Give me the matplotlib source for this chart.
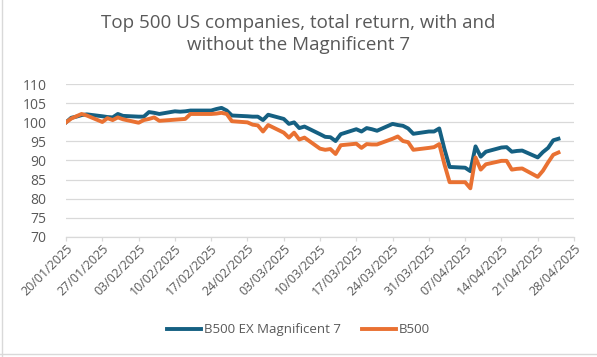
import datetime as dt

import matplotlib
matplotlib.use("Agg")
import matplotlib.dates as mdates
import matplotlib.pyplot as plt
from matplotlib.lines import Line2D

plt.rcParams['font.family'] = ['Open Sans', 'DejaVu Sans']

# trading days (weekdays)
start = dt.date(2025, 1, 20)
day_offsets = [0, 1, 2, 3, 4,
               7, 8, 9, 10, 11,
               14, 15, 16, 17, 18,
               21, 22, 23, 24, 25,
               28, 29, 30, 31, 32,
               35, 36, 37, 38, 39,
               42, 43, 44, 45, 46,
               49, 50, 51, 52, 53,
               56, 57, 58, 59, 60,
               63, 64, 65, 66, 67,
               70, 71, 72, 73, 74,
               77, 78, 79, 80, 81,
               84, 85, 86, 87, 88,
               91, 92, 93, 94, 95]
dates = [start + dt.timedelta(days=d) for d in day_offsets]

ex_mag7 = [100.0, 101.2, 101.5, 101.9, 102.1,
           101.6, 101.4, 101.3, 102.2, 101.7,
           101.5, 101.5, 102.7, 102.5, 102.2,
           102.9, 102.8, 102.9, 103.1, 103.1,
           103.1, 103.5, 103.8, 103.1, 101.8,
           101.6, 101.5, 101.5, 100.6, 102.0,
           100.9, 99.6, 100.0, 98.5, 98.9,
           96.9, 96.2, 96.1, 95.1, 96.9,
           98.2, 97.6, 98.5, 98.2, 97.8,
           99.6, 99.3, 99.1, 98.4, 97.0,
           97.6, 97.6, 98.4, 93.0, 88.3,
           88.1, 87.2, 93.7, 91.0, 92.3,
           93.4, 93.5, 92.3, 92.5, 92.6,
           90.8, 92.2, 93.3, 95.3, 95.7]

b500 = [100.0, 101.0, 101.6, 102.2, 101.8,
        100.1, 101.1, 100.6, 101.3, 100.8,
        99.9, 100.6, 100.9, 101.3, 100.4,
        100.7, 100.8, 100.9, 102.2, 102.2,
        102.2, 102.3, 102.5, 102.2, 100.3,
        100.0, 99.4, 99.2, 97.6, 99.3,
        97.3, 96.0, 97.3, 95.5, 96.0,
        93.1, 92.8, 93.0, 91.7, 94.0,
        94.4, 93.3, 94.3, 94.2, 94.2,
        95.7, 96.3, 95.1, 94.8, 92.8,
        93.3, 93.5, 94.3, 89.0, 84.3,
        84.3, 82.7, 90.8, 87.6, 89.0,
        89.9, 89.9, 87.6, 87.8, 87.9,
        85.7, 87.3, 89.5, 91.5, 92.1]

tick_dates = [start + dt.timedelta(days=7 * k) for k in range(15)]

text_col = '#595959'
grid_col = '#D9D9D9'

fig = plt.figure(figsize=(5.97, 3.57), dpi=100)
ax = fig.add_axes([0.1106, 0.337, 0.8509, 0.427])

ax.plot(dates, ex_mag7, color='#156082', lw=2.8, solid_joinstyle='round',
        label='B500 EX Magnificent 7', zorder=3)
ax.plot(dates, b500, color='#E97132', lw=2.8, solid_joinstyle='round',
        label='B500', zorder=3)

ax.set_ylim(70, 110)
ax.set_yticks(range(70, 111, 5))
ax.set_xlim(tick_dates[0], tick_dates[-1])
ax.set_xticks(tick_dates)
ax.xaxis.set_major_formatter(mdates.DateFormatter('%d/%m/%Y'))

ax.grid(axis='y', color=grid_col, lw=0.9)
ax.set_axisbelow(True)
for s in ['top', 'right', 'left']:
    ax.spines[s].set_visible(False)
ax.spines['bottom'].set_color(grid_col)
ax.spines['bottom'].set_linewidth(0.9)

ax.tick_params(axis='y', length=0, pad=14, labelsize=10, labelcolor=text_col)
ax.tick_params(axis='x', length=3, color=grid_col, width=0.9,
               labelsize=9, labelcolor=text_col, pad=1)
for lab in ax.get_xticklabels():
    lab.set_rotation(45)
    lab.set_ha('right')
    lab.set_rotation_mode('anchor')

fig.text(0.5, 0.905, 'Top 500 US companies, total return, with and\nwithout the Magnificent 7',
         ha='center', va='center', fontsize=13.5, color=text_col, linespacing=1.25)

fig.legend(loc='center', bbox_to_anchor=(0.5, 0.076), ncol=2, frameon=False,
           fontsize=9.5, labelcolor=text_col, handlelength=2.6,
           columnspacing=1.6, handletextpad=0.2)

# thin chart border like the spreadsheet frame
fig.add_artist(Line2D([0.004, 0.004], [0, 1], color=grid_col, lw=1))
fig.add_artist(Line2D([0, 1], [0.009, 0.009], color=grid_col, lw=1))

fig.savefig('out.png', dpi=100)
